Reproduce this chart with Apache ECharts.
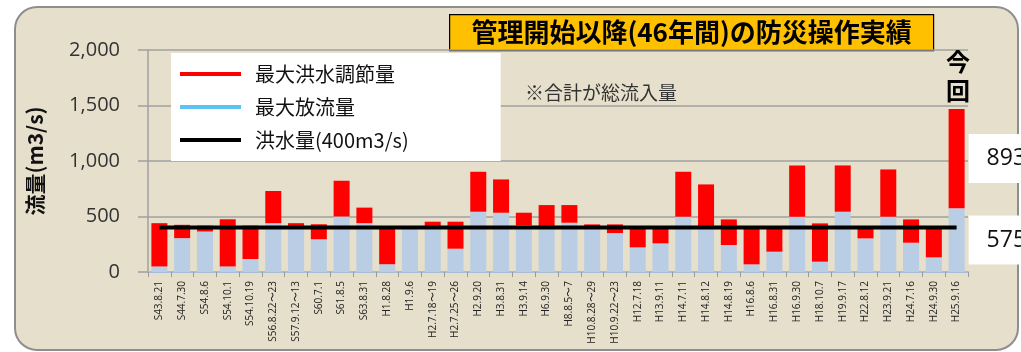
<!DOCTYPE html>
<html>
<head>
<meta charset="utf-8">
<script src="https://cdn.jsdelivr.net/npm/echarts@6/dist/echarts.min.js"></script>
<style>
  html, body { margin: 0; padding: 0; background: #fff; }
  #chart { width: 1021px; height: 352px; }
</style>
</head>
<body>
<div id="chart"></div>
<script>
// Flood events since operation began
const categories = [
  'S43.8.21', 'S44.7.30', 'S54.8.6', 'S54.10.1', 'S54.10.19', 'S56.8.22〜23',
  'S57.9.12〜13', 'S60.7.1', 'S61.8.5', 'S63.8.31', 'H1.8.28', 'H1.9.6',
  'H2.7.18〜19', 'H2.7.25〜26', 'H2.9.20', 'H3.8.31', 'H3.9.14', 'H6.9.30',
  'H8.8.5〜7', 'H10.8.28〜29', 'H10.9.22〜23', 'H12.7.18', 'H13.9.11', 'H14.7.11',
  'H14.8.12', 'H14.8.19', 'H16.8.6', 'H16.8.31', 'H16.9.30', 'H18.10.7',
  'H19.9.17', 'H22.8.12', 'H23.9.21', 'H24.7.16', 'H24.9.30', 'H25.9.16'
];

// 最大放流量 (m3/s)
const maxRelease = [
  50, 305, 365, 50, 117, 440, 400, 295, 500, 440, 70, 390,
  400, 210, 543, 534, 420, 405, 444, 400, 351, 222, 258, 498,
  395, 243, 69, 183, 498, 93, 543, 303, 498, 264, 132, 575
];

// 最大洪水調節量 (m3/s) — stacked above the release
const maxRegulation = [
  390, 120, 53, 425, 301, 290, 40, 135, 322, 140, 320, 0,
  53, 243, 360, 300, 114, 198, 159, 29, 78, 168, 132, 405,
  394, 231, 326, 207, 462, 345, 417, 87, 426, 210, 258, 893
];

// 洪水量 400 m3/s
const floodFlow = [
  400, 400, 400, 400, 400, 400, 400, 400, 400, 400, 400, 400,
  400, 400, 400, 400, 400, 400, 400, 400, 400, 400, 400, 400,
  400, 400, 400, 400, 400, 400, 400, 400, 400, 400, 400, 400
];

const yTicks = { min: 0, max: 2000, interval: 500 };

const JP = '"Noto Sans CJK JP", "Noto Sans", sans-serif';
const NUM = '"Open Sans", "Noto Sans", sans-serif';
const last = categories.length - 1;

function withLastLabel(values) {
  return values.map((v, i) => i === last ? {
    value: v,
    label: {
      show: true, position: 'right', distance: 4,
      backgroundColor: '#fff', color: '#111',
      fontSize: 23, fontFamily: NUM,
      padding: [13, 16, 13, 18],
      formatter: '{c}'
    }
  } : v);
}

const chart = echarts.init(document.getElementById('chart'), null, { renderer: 'canvas' });

chart.setOption({
  animation: false,
  backgroundColor: '#fff',
  grid: { left: 148, right: 53, top: 50, bottom: 80, containLabel: false },
  graphic: [
    {
      type: 'rect', z: -10, silent: true,
      shape: { x: 15, y: 7, width: 1003, height: 343, r: 22 },
      style: { fill: '#E6DFCB', stroke: '#8E8E8E', lineWidth: 2 }
    },
    {
      type: 'group', left: 449, top: 14, z: 20,
      children: [
        { type: 'rect', shape: { x: 0, y: 0, width: 484, height: 36 },
          style: { fill: '#FFC000', stroke: '#000', lineWidth: 1.2 } },
        { type: 'text', x: 242, y: 18,
          style: { text: '管理開始以降(46年間)の防災操作実績', fill: '#000',
            font: 'bold 26px ' + JP, align: 'center', verticalAlign: 'middle' } }
      ]
    },
    {
      type: 'text', left: 525, top: 83, z: 20,
      style: { text: '※合計が総流入量', fill: '#333', font: '19px ' + JP }
    },
    {
      type: 'text', left: 946, top: 47, z: 20,
      style: { text: '今\n回', fill: '#000', font: 'bold 24px ' + JP, lineHeight: 29, align: 'center' }
    }
  ],
  legend: {
    orient: 'vertical', left: 171, top: 53,
    backgroundColor: '#fff',
    padding: [11, 92, 11, 9],
    itemWidth: 61, itemHeight: 4, itemGap: 13,
    icon: 'rect',
    textStyle: { fontSize: 20, color: '#111', fontFamily: JP, padding: [0, 0, 0, 9] },
    data: [
      { name: '最大洪水調節量', itemStyle: { color: '#FF0000' } },
      { name: '最大放流量', itemStyle: { color: '#5BC2F4' } },
      { name: '洪水量(400m3/s)', itemStyle: { color: '#000' } }
    ]
  },
  xAxis: {
    type: 'category',
    data: categories,
    axisLine: { lineStyle: { color: '#A9BCD6', width: 2 } },
    axisTick: { show: true, length: 5, lineStyle: { color: '#999' } },
    axisLabel: { rotate: 90, fontSize: 10, color: '#222', fontFamily: NUM, margin: 9, interval: 0 }
  },
  yAxis: {
    type: 'value',
    min: yTicks.min, max: yTicks.max, interval: yTicks.interval,
    name: '流量(m3/s)',
    nameLocation: 'middle', nameGap: 102, nameRotate: 90,
    nameTextStyle: { fontSize: 21, fontWeight: 'bold', color: '#111', fontFamily: JP },
    axisLine: { show: true, lineStyle: { color: '#A0A0A0', width: 1.5 } },
    axisTick: { show: true, inside: false, length: 10, lineStyle: { color: '#A0A0A0', width: 1.5 } },
    splitLine: { lineStyle: { color: '#A0A0A0', width: 1.5 } },
    axisLabel: {
      fontSize: 20, color: '#333', fontFamily: NUM, margin: 28,
      formatter: v => v.toLocaleString('en-US')
    }
  },
  series: [
    {
      name: '最大放流量', type: 'bar', stack: 'total', barWidth: 16,
      itemStyle: { color: '#B9CDE5' },
      data: withLastLabel(maxRelease)
    },
    {
      name: '最大洪水調節量', type: 'bar', stack: 'total', barWidth: 16,
      itemStyle: { color: '#FF0000' },
      data: withLastLabel(maxRegulation)
    },
    {
      name: '洪水量(400m3/s)', type: 'line', z: 5,
      symbol: 'none',
      lineStyle: { color: '#000', width: 4 },
      itemStyle: { color: '#000' },
      data: floodFlow
    }
  ]
});
</script>
</body>
</html>
